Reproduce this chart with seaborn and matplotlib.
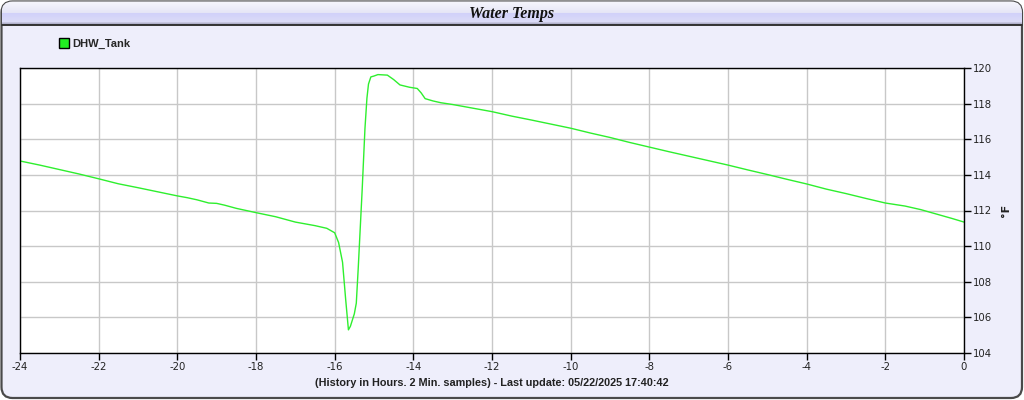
import numpy as np
import pandas as pd
import seaborn as sns
import matplotlib
matplotlib.use("Agg")
import matplotlib.pyplot as plt
from matplotlib.patches import FancyBboxPatch
from matplotlib.lines import Line2D

# ---- data ----
hours = [-24.0, -23.5, -23.0, -22.5, -22.0, -21.5, -21.0, -20.5, -20.0, -19.75,
         -19.5, -19.2, -19.0, -18.8, -18.5, -18.0, -17.5, -17.0, -16.5, -16.2,
         -16.0, -15.9, -15.8, -15.72, -15.65, -15.6, -15.5, -15.45, -15.4, -15.35,
         -15.3, -15.23, -15.18, -15.14, -15.08, -15.0, -14.9, -14.66, -14.5, -14.34,
         -14.1, -13.9, -13.8, -13.7, -13.5, -13.3, -13.0, -12.8, -12.5, -12.0,
         -11.5, -11.0, -10.5, -10.0, -9.5, -9.0, -8.5, -8.0, -7.5, -7.0,
         -6.5, -6.0, -5.5, -5.0, -4.5, -4.0, -3.5, -3.0, -2.5, -2.0,
         -1.5, -1.1, -0.7, -0.3, 0.0]
temps = [114.78, 114.55, 114.30, 114.05, 113.78, 113.50, 113.28, 113.05, 112.82, 112.72,
         112.60, 112.42, 112.40, 112.30, 112.12, 111.88, 111.65, 111.35, 111.15, 111.00,
         110.75, 110.20, 109.10, 107.00, 105.30, 105.50, 106.20, 106.80, 108.80, 111.00,
         113.20, 116.60, 118.30, 119.10, 119.50, 119.55, 119.63, 119.60, 119.35, 119.05,
         118.92, 118.85, 118.60, 118.28, 118.15, 118.05, 117.95, 117.87, 117.75, 117.55,
         117.30, 117.08, 116.85, 116.62, 116.35, 116.10, 115.82, 115.56, 115.30, 115.05,
         114.80, 114.55, 114.28, 114.02, 113.75, 113.49, 113.20, 112.95, 112.68, 112.42,
         112.25, 112.05, 111.80, 111.55, 111.35]
series_name = "DHW_Tank"
title = "Water Temps"
x_label = "(History in Hours. 2 Min. samples) - Last update: 05/22/2025 17:40:42"
y_label = "°F"
x_ticks = list(range(-24, 1, 2))
y_ticks = list(range(104, 121, 2))

df = pd.DataFrame({"hours": hours, "temp": temps, "series": series_name})

sns.set_theme(style="white")
plt.rcParams["font.family"] = ["DejaVu Sans"]
plt.rcParams["axes.unicode_minus"] = False

W, H = 1024, 400
fig = plt.figure(figsize=(W / 100, H / 100), dpi=100)
fig.patch.set_facecolor("white")

# ---- background panel (pixel coordinates) ----
bg = fig.add_axes([0, 0, 1, 1], zorder=-5)
bg.set_xlim(0, W)
bg.set_ylim(H, 0)
bg.axis("off")
panel = FancyBboxPatch((1.5, 1.5), W - 3.5, H - 3.5,
                       boxstyle="round,pad=0,rounding_size=11",
                       fc="#EEEEFB", ec="#4a4a4a", lw=1.6, zorder=1)
bg.add_patch(panel)
rows = []
for i in range(24):
    if i < 12:
        t = i / 11
        c = np.array([0.965, 0.965, 0.99]) * (1 - t) + np.array([0.90, 0.90, 0.965]) * t
    elif i < 21:
        t = (i - 12) / 8
        c = np.array([0.82, 0.82, 0.98]) * (1 - t) + np.array([0.86, 0.86, 0.97]) * t
    else:
        t = (i - 21) / 2
        c = np.array([0.78, 0.78, 0.88]) * (1 - t) + np.array([0.62, 0.62, 0.72]) * t
    rows.append(c)
img = np.array(rows)[:, None, :]
im = bg.imshow(img, extent=(1.5, W - 2, 25, 1.5), aspect="auto", zorder=2,
               interpolation="nearest")
im.set_clip_path(panel)
bg.plot([2, W - 2.5], [25, 25], color="#333333", lw=1.4, zorder=3)
bg.text(W / 2, 14, title, ha="center", va="center", fontsize=11.5,
        family=["Liberation Serif"], fontweight="bold", fontstyle="italic",
        color="#111111", zorder=4)

# ---- main axes ----
ax = fig.add_axes([20 / W, 1 - 353 / H, (964 - 20) / W, (353 - 68) / H])
ax.set_facecolor("white")
sns.lineplot(data=df, x="hours", y="temp", ax=ax, color="#2EEF2E", lw=1.0,
             legend=False, estimator=None, sort=False)
ax.set_xlim(-24, 0)
ax.set_ylim(104, 120)
ax.set_xticks(x_ticks)
ax.set_xticklabels([str(t) for t in x_ticks])
ax.set_yticks(y_ticks)
ax.set_yticklabels([str(t) for t in y_ticks])
ax.yaxis.tick_right()
ax.yaxis.set_label_position("right")
ax.grid(True, color="#C8C8C8", lw=1.0)
for s in ax.spines.values():
    s.set_color("black")
    s.set_linewidth(1.0)
    s.set_visible(True)
ax.tick_params(axis="both", direction="out", length=5, width=1, color="black",
               labelsize=7.3, labelcolor="#222222", pad=1.5)
ax.tick_params(axis="x", bottom=True)
ax.tick_params(axis="y", right=True, left=False)
ax.set_xlabel(x_label, fontsize=7.8, family=["Liberation Sans"], fontweight="bold",
              color="#222222", labelpad=4)
ax.set_ylabel(y_label, fontsize=8, fontweight="bold", color="#222222", labelpad=6)

handle = Line2D([], [], marker="s", linestyle="none", markersize=6.5,
                markerfacecolor="#22EE22", markeredgecolor="black", markeredgewidth=1.0)
fig.legend([handle], [series_name], loc="center left",
           bbox_to_anchor=(53 / W, 1 - 44 / H), frameon=False,
           prop={"family": "Liberation Sans", "weight": "bold", "size": 8},
           handletextpad=0.25, borderpad=0, handlelength=1.0)

fig.savefig("out.png", dpi=100, facecolor=fig.get_facecolor())
